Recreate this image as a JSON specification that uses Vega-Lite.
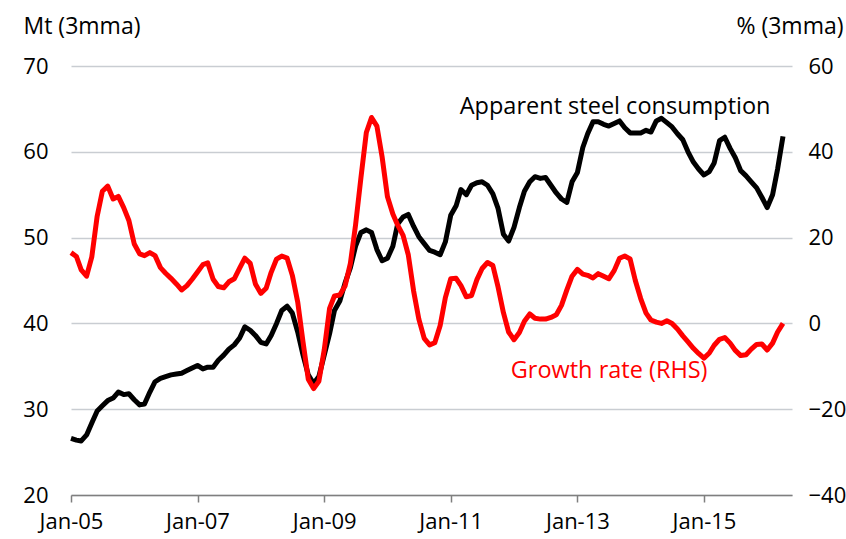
{
  "$schema": "https://vega.github.io/schema/vega-lite/v6.json",
  "width": 721,
  "height": 429,
  "autosize": {"type": "none"},
  "padding": {"left": 71, "top": 66, "right": 54, "bottom": 44},
  "background": "white",
  "config": {
    "view": {"stroke": null},
    "font": "Open Sans",
    "axis": {"labelColor": "#000000", "titleColor": "#000000", "labelFontSize": 22, "titleFontSize": 23, "titleFontWeight": "normal", "labelFont": "Open Sans", "titleFont": "Open Sans"}
  },
  "datasets": {
    "series": [
      {"d": "2005-01-01", "m": 26.6, "g": 16.5},
      {"d": "2005-02-01", "m": 26.4, "g": 15.6},
      {"d": "2005-03-01", "m": 26.3, "g": 12.5},
      {"d": "2005-04-01", "m": 27.0, "g": 11.0},
      {"d": "2005-05-01", "m": 28.4, "g": 15.5},
      {"d": "2005-06-01", "m": 29.8, "g": 25.0},
      {"d": "2005-07-01", "m": 30.4, "g": 30.8},
      {"d": "2005-08-01", "m": 31.0, "g": 32.0},
      {"d": "2005-09-01", "m": 31.3, "g": 29.0},
      {"d": "2005-10-01", "m": 32.0, "g": 29.6},
      {"d": "2005-11-01", "m": 31.7, "g": 27.0},
      {"d": "2005-12-01", "m": 31.8, "g": 24.0},
      {"d": "2006-01-01", "m": 31.1, "g": 18.5},
      {"d": "2006-02-01", "m": 30.5, "g": 16.2},
      {"d": "2006-03-01", "m": 30.6, "g": 15.8},
      {"d": "2006-04-01", "m": 32.0, "g": 16.5},
      {"d": "2006-05-01", "m": 33.2, "g": 15.8},
      {"d": "2006-06-01", "m": 33.6, "g": 13.0},
      {"d": "2006-07-01", "m": 33.8, "g": 11.7},
      {"d": "2006-08-01", "m": 34.0, "g": 10.5},
      {"d": "2006-09-01", "m": 34.1, "g": 9.2},
      {"d": "2006-10-01", "m": 34.2, "g": 7.8},
      {"d": "2006-11-01", "m": 34.5, "g": 8.8},
      {"d": "2006-12-01", "m": 34.8, "g": 10.3},
      {"d": "2007-01-01", "m": 35.1, "g": 12.0},
      {"d": "2007-02-01", "m": 34.7, "g": 13.7},
      {"d": "2007-03-01", "m": 34.9, "g": 14.1},
      {"d": "2007-04-01", "m": 34.9, "g": 10.3},
      {"d": "2007-05-01", "m": 35.7, "g": 8.6},
      {"d": "2007-06-01", "m": 36.3, "g": 8.3},
      {"d": "2007-07-01", "m": 37.0, "g": 9.7},
      {"d": "2007-08-01", "m": 37.5, "g": 10.4},
      {"d": "2007-09-01", "m": 38.3, "g": 12.9},
      {"d": "2007-10-01", "m": 39.6, "g": 15.2},
      {"d": "2007-11-01", "m": 39.2, "g": 14.0},
      {"d": "2007-12-01", "m": 38.6, "g": 9.2},
      {"d": "2008-01-01", "m": 37.8, "g": 7.0},
      {"d": "2008-02-01", "m": 37.6, "g": 8.2},
      {"d": "2008-03-01", "m": 38.6, "g": 11.9},
      {"d": "2008-04-01", "m": 40.0, "g": 15.0},
      {"d": "2008-05-01", "m": 41.5, "g": 15.7},
      {"d": "2008-06-01", "m": 42.0, "g": 15.2},
      {"d": "2008-07-01", "m": 41.2, "g": 11.2},
      {"d": "2008-08-01", "m": 39.0, "g": 5.0},
      {"d": "2008-09-01", "m": 36.3, "g": -4.4},
      {"d": "2008-10-01", "m": 34.0, "g": -13.0},
      {"d": "2008-11-01", "m": 33.0, "g": -15.2},
      {"d": "2008-12-01", "m": 33.8, "g": -13.5},
      {"d": "2009-01-01", "m": 36.3, "g": -6.2},
      {"d": "2009-02-01", "m": 38.8, "g": 3.5},
      {"d": "2009-03-01", "m": 41.5, "g": 6.4},
      {"d": "2009-04-01", "m": 42.6, "g": 6.6},
      {"d": "2009-05-01", "m": 44.7, "g": 8.7},
      {"d": "2009-06-01", "m": 46.5, "g": 14.0},
      {"d": "2009-07-01", "m": 49.0, "g": 23.0},
      {"d": "2009-08-01", "m": 50.6, "g": 34.0},
      {"d": "2009-09-01", "m": 50.9, "g": 44.5},
      {"d": "2009-10-01", "m": 50.6, "g": 48.0},
      {"d": "2009-11-01", "m": 48.6, "g": 46.0},
      {"d": "2009-12-01", "m": 47.3, "g": 38.8},
      {"d": "2010-01-01", "m": 47.6, "g": 29.5},
      {"d": "2010-02-01", "m": 49.0, "g": 25.5},
      {"d": "2010-03-01", "m": 51.6, "g": 22.9},
      {"d": "2010-04-01", "m": 52.4, "g": 20.5},
      {"d": "2010-05-01", "m": 52.7, "g": 16.0},
      {"d": "2010-06-01", "m": 51.3, "g": 7.5},
      {"d": "2010-07-01", "m": 50.1, "g": 1.0},
      {"d": "2010-08-01", "m": 49.3, "g": -3.5},
      {"d": "2010-09-01", "m": 48.5, "g": -5.0},
      {"d": "2010-10-01", "m": 48.3, "g": -4.5},
      {"d": "2010-11-01", "m": 48.0, "g": -0.5},
      {"d": "2010-12-01", "m": 49.5, "g": 6.0},
      {"d": "2011-01-01", "m": 52.6, "g": 10.4},
      {"d": "2011-02-01", "m": 53.7, "g": 10.5},
      {"d": "2011-03-01", "m": 55.6, "g": 8.8},
      {"d": "2011-04-01", "m": 55.0, "g": 6.2},
      {"d": "2011-05-01", "m": 56.1, "g": 6.5},
      {"d": "2011-06-01", "m": 56.4, "g": 10.2},
      {"d": "2011-07-01", "m": 56.5, "g": 12.8},
      {"d": "2011-08-01", "m": 56.1, "g": 14.2},
      {"d": "2011-09-01", "m": 55.1, "g": 13.5},
      {"d": "2011-10-01", "m": 53.4, "g": 8.5},
      {"d": "2011-11-01", "m": 50.4, "g": 2.5},
      {"d": "2011-12-01", "m": 49.6, "g": -2.0},
      {"d": "2012-01-01", "m": 51.2, "g": -3.8},
      {"d": "2012-02-01", "m": 53.5, "g": -2.1},
      {"d": "2012-03-01", "m": 55.4, "g": 0.5},
      {"d": "2012-04-01", "m": 56.5, "g": 2.2},
      {"d": "2012-05-01", "m": 57.1, "g": 1.2},
      {"d": "2012-06-01", "m": 56.9, "g": 1.0},
      {"d": "2012-07-01", "m": 57.0, "g": 1.0},
      {"d": "2012-08-01", "m": 56.1, "g": 1.4},
      {"d": "2012-09-01", "m": 55.2, "g": 2.0},
      {"d": "2012-10-01", "m": 54.5, "g": 4.2},
      {"d": "2012-11-01", "m": 54.1, "g": 7.8},
      {"d": "2012-12-01", "m": 56.5, "g": 11.0},
      {"d": "2013-01-01", "m": 57.6, "g": 12.6},
      {"d": "2013-02-01", "m": 60.5, "g": 11.5},
      {"d": "2013-03-01", "m": 62.1, "g": 11.2},
      {"d": "2013-04-01", "m": 63.5, "g": 10.6},
      {"d": "2013-05-01", "m": 63.5, "g": 11.6},
      {"d": "2013-06-01", "m": 63.2, "g": 11.0},
      {"d": "2013-07-01", "m": 63.0, "g": 10.4},
      {"d": "2013-08-01", "m": 63.3, "g": 12.3},
      {"d": "2013-09-01", "m": 63.6, "g": 15.2},
      {"d": "2013-10-01", "m": 62.8, "g": 15.7},
      {"d": "2013-11-01", "m": 62.2, "g": 15.0},
      {"d": "2013-12-01", "m": 62.2, "g": 10.0},
      {"d": "2014-01-01", "m": 62.2, "g": 5.8},
      {"d": "2014-02-01", "m": 62.5, "g": 2.4},
      {"d": "2014-03-01", "m": 62.3, "g": 0.8},
      {"d": "2014-04-01", "m": 63.6, "g": 0.3},
      {"d": "2014-05-01", "m": 63.9, "g": 0.0},
      {"d": "2014-06-01", "m": 63.4, "g": 0.6},
      {"d": "2014-07-01", "m": 62.9, "g": 0.0},
      {"d": "2014-08-01", "m": 62.1, "g": -1.3},
      {"d": "2014-09-01", "m": 61.4, "g": -2.9},
      {"d": "2014-10-01", "m": 60.0, "g": -4.3},
      {"d": "2014-11-01", "m": 58.8, "g": -5.8},
      {"d": "2014-12-01", "m": 58.0, "g": -7.0},
      {"d": "2015-01-01", "m": 57.3, "g": -8.1},
      {"d": "2015-02-01", "m": 57.7, "g": -6.9},
      {"d": "2015-03-01", "m": 58.7, "g": -5.1},
      {"d": "2015-04-01", "m": 61.3, "g": -3.7},
      {"d": "2015-05-01", "m": 61.7, "g": -3.3},
      {"d": "2015-06-01", "m": 60.4, "g": -4.6},
      {"d": "2015-07-01", "m": 59.3, "g": -6.3},
      {"d": "2015-08-01", "m": 57.8, "g": -7.5},
      {"d": "2015-09-01", "m": 57.2, "g": -7.3},
      {"d": "2015-10-01", "m": 56.5, "g": -6.0},
      {"d": "2015-11-01", "m": 55.8, "g": -4.9},
      {"d": "2015-12-01", "m": 54.7, "g": -4.8},
      {"d": "2016-01-01", "m": 53.5, "g": -6.2},
      {"d": "2016-02-01", "m": 55.0, "g": -4.6},
      {"d": "2016-03-01", "m": 58.0, "g": -2.0},
      {"d": "2016-04-01", "m": 61.8, "g": 0.0}
    ],
    "labels": [
      {"t": "Apparent steel consumption", "d": "2011-02-22", "m": 64.4, "c": "black"},
      {"t": "Growth rate (RHS)", "d": "2011-12-13", "g": -12.7, "c": "red"}
    ]
  },
  "data": {"name": "series"},
  "layer": [
    {
      "mark": {"type": "line", "color": "#000000", "strokeWidth": 5, "strokeJoin": "round"},
      "encoding": {
        "x": {
          "field": "d", "type": "temporal",
          "scale": {"domain": ["2005-01-01", "2016-05-23"]},
          "axis": {
            "title": null, "grid": false, "format": "%b-%y",
            "values": ["2005-01-01", "2007-01-01", "2009-01-01", "2011-01-01", "2013-01-01", "2015-01-01"],
            "domainColor": "#7f7f7f", "domainWidth": 1.5, "tickColor": "#7f7f7f", "tickWidth": 1.5, "tickSize": 7,
            "labelPadding": 9, "labelFlush": false, "labelOverlap": false, "labelBound": false
          }
        },
        "y": {
          "field": "m", "type": "quantitative",
          "scale": {"domain": [20, 70], "nice": false, "zero": false},
          "axis": {
            "title": "Mt (3mma)", "titleAngle": 0, "titleX": -48, "titleY": -33, "titleAlign": "left", "titleBaseline": "alphabetic",
            "values": [20, 30, 40, 50, 60, 70], "grid": true, "gridColor": "#c9cdd2", "gridWidth": 1.5,
            "domain": false, "ticks": false, "tickSize": 0, "labelPadding": 23
          }
        }
      }
    },
    {
      "mark": {"type": "line", "color": "#ff0000", "strokeWidth": 5, "strokeJoin": "round"},
      "encoding": {
        "x": {"field": "d", "type": "temporal"},
        "y": {
          "field": "g", "type": "quantitative",
          "scale": {"domain": [-40, 60], "nice": false, "zero": false},
          "axis": {
            "orient": "right", "title": "% (3mma)", "titleAngle": 0, "titleX": 51, "titleY": -33, "titleAlign": "right", "titleBaseline": "alphabetic",
            "values": [-40, -20, 0, 20, 40, 60], "grid": false, "domain": false, "ticks": false, "tickSize": 0, "labelPadding": 16
          }
        }
      }
    },
    {
      "data": {"name": "labels"},
      "transform": [{"filter": "datum.c === 'black'"}],
      "mark": {"type": "text", "align": "left", "baseline": "alphabetic", "fontSize": 23.5, "color": "#000000", "font": "Open Sans"},
      "encoding": {
        "x": {"field": "d", "type": "temporal"},
        "y": {"field": "m", "type": "quantitative", "scale": {"domain": [20, 70], "nice": false, "zero": false}, "axis": null},
        "text": {"field": "t"}
      }
    },
    {
      "data": {"name": "labels"},
      "transform": [{"filter": "datum.c === 'red'"}],
      "mark": {"type": "text", "align": "left", "baseline": "alphabetic", "fontSize": 23.5, "color": "#ff0000", "font": "Open Sans"},
      "encoding": {
        "x": {"field": "d", "type": "temporal"},
        "y": {"field": "g", "type": "quantitative", "scale": {"domain": [-40, 60], "nice": false, "zero": false}, "axis": null},
        "text": {"field": "t"}
      }
    }
  ],
  "resolve": {"scale": {"y": "independent"}}
}
